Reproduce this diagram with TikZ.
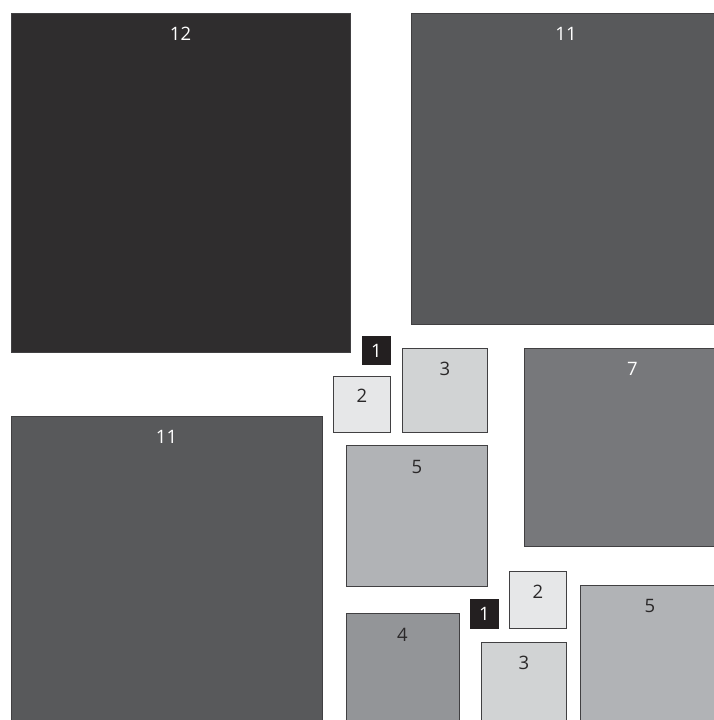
\documentclass[tikz,border=0pt]{standalone}
\usepackage{fontspec}
\setmainfont{Open Sans}
\definecolor{c12}{HTML}{2F2D2E}
\definecolor{c11}{HTML}{58595B}
\definecolor{c7}{HTML}{77787B}
\definecolor{c5}{HTML}{B1B3B6}
\definecolor{c4}{HTML}{939598}
\definecolor{c3}{HTML}{D1D3D4}
\definecolor{c2}{HTML}{E6E7E8}
\definecolor{c1}{HTML}{231F20}
\definecolor{edge}{HTML}{414042}
\definecolor{darktxt}{HTML}{2A2829}
\begin{document}
\begin{tikzpicture}[x=1pt,y=-1pt,
  sq/.style={draw=edge,line width=0.8pt},
  lbl/.style={font=\fontsize{18.5}{20}\selectfont,inner sep=0pt,anchor=center},
  lt/.style={lbl,text=white},
  dk/.style={lbl,text=darktxt}]
\useasboundingbox (0,0) rectangle (714,720);
\begin{scope}
\clip (0,0) rectangle (714,720);
% top-left 12
\fill[sq,fill=c12] (11,13) rectangle (350,352);
\node[lt] (l12) at (180.5,33.5) {12};
% top-right 11
\fill[sq,fill=c11] (411,13) rectangle (716,324);
\node[lt] (l11a) at (566,33.5) {11};
% 1 top
\fill[fill=c1] (362,336) rectangle (391,365);
\node[lt] (l1a) at (376.5,350.5) {1};
% 2 top
\fill[sq,fill=c2] (333.5,376.5) rectangle (390.5,432.5);
\node[dk] (l2a) at (362,395.5) {2};
% 3 top
\fill[sq,fill=c3] (402.5,348.5) rectangle (487.5,432.5);
\node[dk] (l3a) at (445,368.5) {3};
% 7
\fill[sq,fill=c7] (524,348) rectangle (716,546);
\node[lt] (l7) at (632.5,368.5) {7};
% 5 middle
\fill[sq,fill=c5] (346,445.5) rectangle (487.5,586.5);
\node[dk] (l5a) at (417,467) {5};
% bottom-left 11
\fill[sq,fill=c11] (11,416) rectangle (322,724);
\node[lt] (l11b) at (166.5,436.5) {11};
% 4
\fill[sq,fill=c4] (346,613.5) rectangle (459,724);
\node[dk] (l4) at (402.5,634.5) {4};
% 1 bottom
\fill[fill=c1] (470,599) rectangle (499,628.5);
\node[lt] (l1b) at (484.5,613.5) {1};
% 2 bottom
\fill[sq,fill=c2] (509.5,571.5) rectangle (566.5,628);
\node[dk] (l2b) at (538,591.5) {2};
% 3 bottom
\fill[sq,fill=c3] (481.5,642.5) rectangle (566.5,724);
\node[dk] (l3b) at (524,663) {3};
% 5 bottom
\fill[sq,fill=c5] (580.5,585.5) rectangle (716,724);
\node[dk] (l5b) at (650,606) {5};
\end{scope}
\end{tikzpicture}
\end{document}
